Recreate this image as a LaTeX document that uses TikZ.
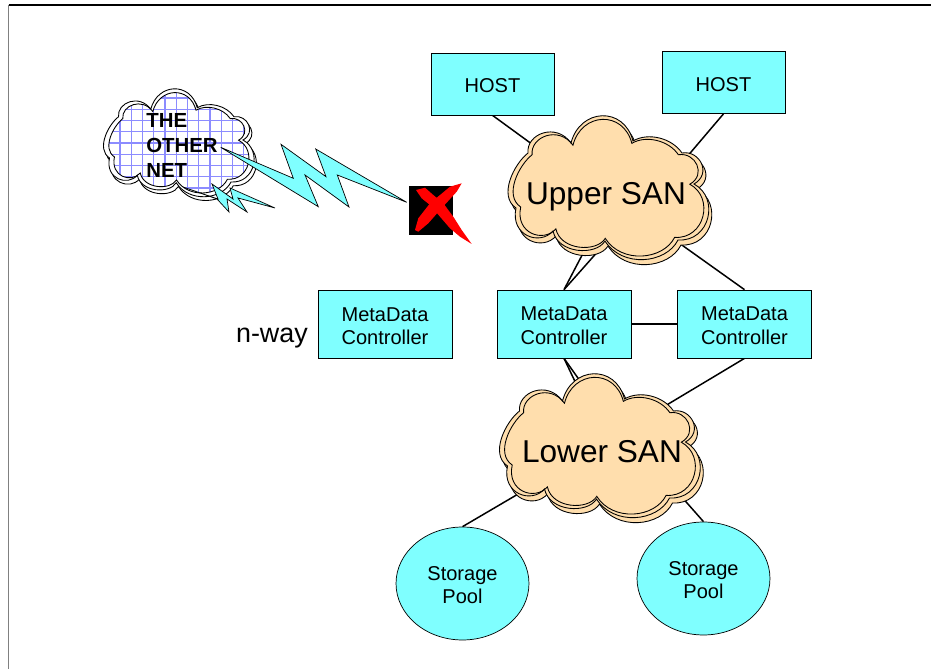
\documentclass[tikz,border=0pt]{standalone}
\usepackage{fontspec}
\setmainfont{Liberation Sans}
\usepackage{xcolor}
\usetikzlibrary{backgrounds,shapes.geometric}
\definecolor{boxcyan}{RGB}{127,255,255}
\definecolor{sanpeach}{RGB}{255,222,173}
\definecolor{gridblue}{RGB}{140,140,255}
\newcommand{\cloudline}{(-82,-35) .. controls (-84,-54) and (-54,-66) .. (-39,-45) .. controls (-30,-80) and (14,-82) .. (23,-47) .. controls (38,-56) and (62,-50) .. (72,-35) .. controls (90,-38) and (102,-14) .. (84,-4) .. controls (110,10) and (100,54) .. (68,52) .. controls (56,76) and (12,80) .. (-5,53) .. controls (-14,68) and (-52,66) .. (-57,43) .. controls (-70,58) and (-100,48) .. (-94,20) .. controls (-112,8) and (-96,-24) .. (-82,-35) -- cycle}
\begin{document}
\begin{tikzpicture}[
	% style def
	x=0.02cm, y=-0.02cm,
	box/.style={draw=black, fill=boxcyan},
	boxtext/.style={font=\fontsize{11.4pt}{13.4pt}\selectfont, align=center, inner sep=0pt, yshift=-1pt},
	link/.style={draw=black, line width=0.85pt},
	cloudedge/.style={draw=black, line width=0.5pt},
	sanlabel/.style={font=\fontsize{18pt}{20pt}\selectfont},
	pool/.style={ellipse, draw=black, fill=boxcyan, inner sep=0pt, minimum width=2.66cm, minimum height=2.26cm},
	bolt/.style={draw=black, fill=boxcyan, line width=0.4pt, line join=miter}
	]
	\useasboundingbox (0,0) rectangle (931,669);
	% page frame
	\draw[gray, line width=1pt] (8.5,5) -- (8.5,669);
	\draw[black, line width=0.7pt] (8.5,5) -- (931,5);

	% hosts
	\node[box, minimum width=2.46cm, minimum height=1.24cm] (host1) at (492.5,84) {};
	\node[box, minimum width=2.46cm, minimum height=1.24cm] (host2) at (723.5,82.5) {};
	\node[boxtext] (host1text) at (host1) {HOST};
	\node[boxtext] (host2text) at (host2) {HOST};

	% controllers
	\node[box, minimum width=2.68cm, minimum height=1.36cm] (mdc1) at (385,324.5) {};
	\node[box, minimum width=2.68cm, minimum height=1.36cm] (mdc2) at (564,324) {};
	\node[box, minimum width=2.68cm, minimum height=1.36cm] (mdc3) at (744.5,324) {};
	\node[boxtext] (mdc1text) at (mdc1) {MetaData\\Controller};
	\node[boxtext] (mdc2text) at (mdc2) {MetaData\\Controller};
	\node[boxtext] (mdc3text) at (mdc3) {MetaData\\Controller};
	\node[left=0pt, font=\fontsize{15.3pt}{17pt}\selectfont] (nway) at (314,338) {n-way};

	% storage
	\node[pool] (pool1) at (462.5,583.5) {};
	\node[pool] (pool2) at (703.5,578.5) {};
	\node[boxtext] (pool1text) at (pool1) {Storage\\Pool};
	\node[boxtext] (pool2text) at (pool2) {Storage\\Pool};

	% upper cloud
	\begin{scope}[shift={(610,188)}]
		\filldraw[cloudedge, fill=sanpeach, shift={(3,5)}] \cloudline;
		\filldraw[cloudedge, fill=sanpeach] \cloudline;
		\draw[cloudedge, scale=0.95] \cloudline;
	\end{scope}
	\node[sanlabel] (upper) at (606,197) {Upper SAN};

	% lower cloud
	\begin{scope}[shift={(601.5,446)}]
		\filldraw[cloudedge, fill=sanpeach, shift={(3,5)}] \cloudline;
		\filldraw[cloudedge, fill=sanpeach] \cloudline;
		\draw[cloudedge, scale=0.95] \cloudline;
	\end{scope}
	\node[sanlabel] (lower) at (602,452) {Lower SAN};

	% named ends behind the clouds
	\coordinate (upperNW) at (540,150);
	\coordinate (upperNE) at (680,165);
	\coordinate (upperSW1) at (590,240);
	\coordinate (upperSW2) at (608,240);
	\coordinate (upperSE) at (665,233);
	\coordinate (lowerN1) at (580,392);
	\coordinate (lowerN2) at (590,395);
	\coordinate (lowerNE) at (655,412);
	\coordinate (lowerSW) at (525,490);
	\coordinate (lowerSE) at (680,495);

	\begin{pgfonlayer}{background}
		\draw[link] (host1.south) -- (upperNW);
		\draw[link] (host2.south) -- (upperNE);
		\draw[link] (mdc2.north) -- (upperSW1);
		\draw[link] (mdc2.north) -- (upperSW2);
		\draw[link] (mdc3.north) -- (upperSE);
		\draw[link] (mdc2.east) -- (mdc3.west);
		\draw[link] (mdc2.south) -- (lowerN1);
		\draw[link] (mdc2.south) -- (lowerN2);
		\draw[link] (mdc3.south) -- (lowerNE);
		\draw[link] (pool1.north) -- (lowerSW);
		\draw[link] (pool2.north) -- (lowerSE);
	\end{pgfonlayer}

	% the other net
	\begin{scope}[shift={(180,143)}, scale=0.75]
		\filldraw[cloudedge, fill=white, shift={(3,5)}] \cloudline;
		\filldraw[cloudedge, fill=white] \cloudline;
		\begin{scope}
			\clip[scale=0.93] \cloudline;
			\foreach \gx in {-110,-95,...,115}
				\draw[gridblue, line width=0.7pt] (\gx,-90) -- (\gx,90);
			\foreach \gy in {-90,-75,...,90}
				\draw[gridblue, line width=0.7pt] (-120,\gy) -- (120,\gy);
		\end{scope}
		\draw[cloudedge, scale=0.93] \cloudline;
	\end{scope}

	% small and big flash
	\filldraw[bolt] (183,187) -- (218,199) -- (212,184) -- (233,199) -- (230,188) -- (275,208) -- (238,198) -- (247,212) -- (227,199) -- (229,212) -- (217,199) -- cycle;
	\filldraw[bolt] (220.7,147.3) -- (293.3,178.3) -- (281,144.3) -- (326,176.7) -- (315.7,149) -- (406.7,202.3) -- (337.3,175) -- (349,207) -- (305,175) -- (318.3,206.7) -- cycle;

	\node[anchor=north west, font=\fontsize{11.6pt}{14.2pt}\selectfont\bfseries, align=left, inner sep=0pt] (othernet) at (146,113) {THE\\OTHER\\NET};

	% red cross on black
	\fill[black] (409,186) rectangle (453,235);
	\fill[red] (450,186.7) -- (461.7,183.3) -- (456.7,191.7) -- (440,210) -- (428.3,223.3) -- (418.3,231.7) -- (415,230) -- (418.3,218.3) -- (430,203.3) -- (440,195) -- cycle;
	\fill[red] (416,190) -- (425,187.7) -- (433.3,195) -- (443.3,203.3) -- (453.3,216.7) -- (461.7,230) -- (471.7,244) -- (460,236.7) -- (450,228.3) -- (440,216.7) -- (430,205) -- (421.7,198.3) -- cycle;
\end{tikzpicture}
\end{document}
